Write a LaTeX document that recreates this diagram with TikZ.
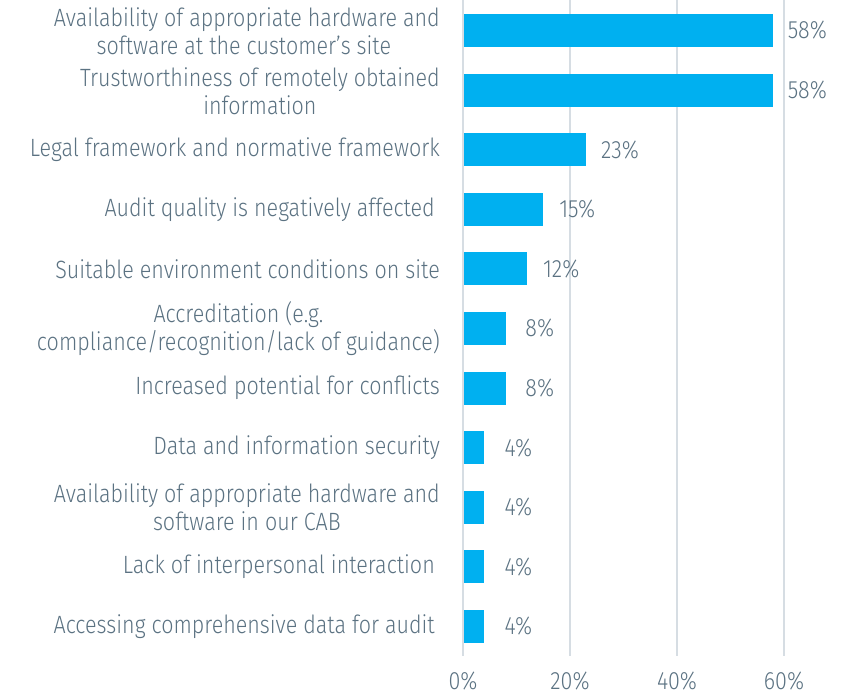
\documentclass[tikz,border=0pt]{standalone}
\usepackage{fontspec}
\setmainfont{Fira Sans}[UprightFont={* Light},FakeStretch=0.86]
\definecolor{txt}{HTML}{5B7282}
\definecolor{barc}{HTML}{00B0F0}
\definecolor{gridc}{HTML}{D6DDE3}
\begin{document}
\begin{tikzpicture}[x=1pt,y=-1pt,
  lbl/.style={anchor=east,align=center,text=txt,font=\fontsize{25}{28}\selectfont,inner sep=0pt},
  val/.style={anchor=center,text=txt,font=\fontsize{25}{28}\selectfont,inner sep=0pt},
  ax/.style={anchor=base,text=txt,font=\fontsize{25}{28}\selectfont,inner sep=0pt},
  gline/.style={draw=gridc,line width=2pt},
  barbox/.style={fill=barc,draw=none}]
\useasboundingbox (0,0) rectangle (844,696);
% grid
\foreach \k/\t in {0/0\%,1/20\%,2/40\%,3/60\%}{
  \coordinate (gt\k) at ({463+107*\k},0);
  \coordinate (gb\k) at ({463+107*\k},656);
  \draw[gline] (gt\k) -- (gb\k);
  \node[ax] (ax\k) at ({463+107*\k},689) {\t};
}
% bars
\foreach \i/\v in {0/58,1/58,2/23,3/15,4/12,5/8,6/8,7/4,8/4,9/4,10/4}{
  \pgfmathsetmacro{\yc}{30.5+59.6*\i}
  \pgfmathsetmacro{\xe}{463+5.35*\v}
  \fill[barc] (464,\yc-16.5) rectangle (\xe,\yc+16.5);
  \node[val] (v\i) at (\xe+34,\yc) {\v\%};
}
% labels
\node[lbl] (l0) at (440,31) {Availability of appropriate hardware and\\software at the customer's site\hphantom{i}};
\node[lbl] (l1) at (440,91) {Trustworthiness of remotely obtained\\information};
\node[lbl] (l2) at (440,150) {Legal framework and normative framework};
\node[lbl] (l3) at (435,210) {Audit quality is negatively affected};
\node[lbl] (l4) at (440,269) {Suitable environment conditions on site};
\node[lbl] (l5) at (440,329) {Accreditation (e.g.\\compliance/recognition/lack of guidance)};
\node[lbl] (l6) at (440,388) {Increased potential for conflicts};
\node[lbl] (l7) at (440,448) {Data and information security};
\node[lbl] (l8) at (440,507) {Availability of appropriate hardware and\\software in our CAB};
\node[lbl] (l9) at (435,567) {Lack of interpersonal interaction};
\node[lbl] (l10) at (435,627) {Accessing comprehensive data for audit};
\end{tikzpicture}
\end{document}
